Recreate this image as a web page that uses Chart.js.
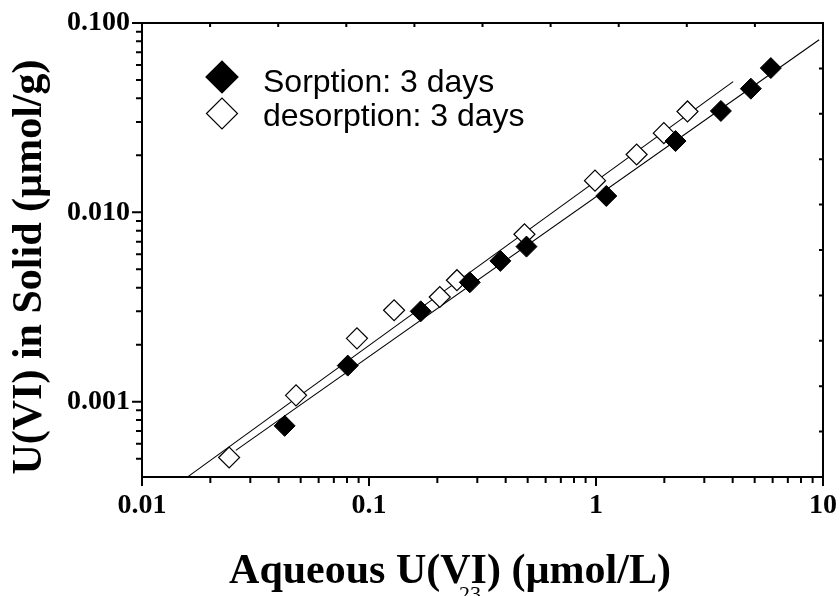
<!DOCTYPE html>
<html>
<head>
<meta charset="utf-8">
<script src="https://cdn.jsdelivr.net/npm/chart.js@4.4.1/dist/chart.umd.min.js"></script>
<style>
	html, body { margin: 0; padding: 0; background: #fff; }
	#wrap { width: 840px; height: 596px; }
</style>
</head>
<body>
<div id="wrap"><canvas id="chart"></canvas></div>
<script>
/* ==========================================================================
 Data
 ========================================================================== */

const seriesNames = ['Sorption: 3 days', 'desorption: 3 days'];

const sorptionX = [0.0425, 0.0806, 0.169, 0.278, 0.379, 0.494, 1.11, 2.24, 3.55, 4.81, 5.89];
const sorptionY = [0.000745, 0.00155, 0.0030, 0.00427, 0.00554, 0.00659, 0.0122, 0.0238, 0.0343, 0.045, 0.0578];

const desorptionX = [0.0242, 0.0477, 0.0885, 0.129, 0.205, 0.244, 0.484, 0.99, 1.51, 1.99, 2.53];
const desorptionY = [0.000507, 0.00108, 0.00216, 0.00304, 0.00357, 0.00438, 0.00766, 0.0147, 0.0202, 0.0262, 0.0341];

// fitted lines, end points
const sorptionFitX = [0.0259, 9.62];
const sorptionFitY = [0.000553, 0.0816];
const desorptionFitX = [0.0160, 4.02];
const desorptionFitY = [0.000403, 0.0490];

const xMajorTicks = [0.01, 0.1, 1, 10];
const xTickLabels = ['0.01', '0.1', '1', '10'];
const yMajorTicks = [0.001, 0.01, 0.1];
const yTickLabels = ['0.001', '0.010', '0.100'];

const xTitle = 'Aqueous U(VI) (\u00b5mol/L)';
const yTitle = 'U(VI) in Solid (\u00b5mol/g)';
const pageNumber = '23';

/* ==========================================================================
 Helpers
 ========================================================================== */

const toPoints = (xs, ys) => xs.map((x, i) => ({x: x, y: ys[i]}));

// 2..9 multiples of each decade, kept inside the axis range
const minorTicks = (min, max) => {
	const out = [];
	for (let e = Math.floor(Math.log10(min)); e < Math.ceil(Math.log10(max)); e++) {
		for (let k = 2; k <= 9; k++) {
			const v = k * Math.pow(10, e);
			if (v > min && v < max) out.push(v);
		}
	}
	return out;
};

const serif = "'Liberation Serif', 'Times New Roman', serif";
const sans = "'Liberation Sans', Arial, sans-serif";

/* ==========================================================================
 Frame, ticks, legend and titles
 ========================================================================== */

const decorPlugin = {
	id: 'decor',
	afterDraw(chart) {
		const {ctx, chartArea: a, scales: {x, y}} = chart;
		ctx.save();
		ctx.strokeStyle = '#000';
		ctx.lineWidth = 2;
		ctx.strokeRect(a.left, a.top, a.right - a.left, a.bottom - a.top);

		ctx.beginPath();
		// left axis, outward
		yMajorTicks.forEach(v => {
			const py = y.getPixelForValue(v);
			ctx.moveTo(a.left - 10, py); ctx.lineTo(a.left, py);
		});
		minorTicks(y.min, y.max).forEach(v => {
			const py = y.getPixelForValue(v);
			ctx.moveTo(a.left - 6, py); ctx.lineTo(a.left, py);
		});
		// bottom axis, outward
		xMajorTicks.forEach(v => {
			const px = x.getPixelForValue(v);
			ctx.moveTo(px, a.bottom); ctx.lineTo(px, a.bottom + 9);
		});
		minorTicks(x.min, x.max).forEach(v => {
			const px = x.getPixelForValue(v);
			ctx.moveTo(px, a.bottom); ctx.lineTo(px, a.bottom + 6);
		});
		// top and right edges: ten even steps, inward
		for (let k = 1; k < 10; k++) {
			const px = a.left + (a.right - a.left) * k / 10;
			ctx.moveTo(px, a.top); ctx.lineTo(px, a.top + 4);
			const py = a.top + (a.bottom - a.top) * k / 10;
			ctx.moveTo(a.right, py); ctx.lineTo(a.right - 4, py);
		}
		ctx.stroke();

		// legend
		const rows = [{cx: 222, cy: 77, r: 16, ty: 92}, {cx: 222, cy: 113.5, r: 15.5, ty: 126}];
		rows.forEach((row, i) => {
			const ds = chart.data.datasets[i];
			ctx.beginPath();
			ctx.moveTo(row.cx - row.r, row.cy);
			ctx.lineTo(row.cx, row.cy - row.r);
			ctx.lineTo(row.cx + row.r, row.cy);
			ctx.lineTo(row.cx, row.cy + row.r);
			ctx.closePath();
			ctx.fillStyle = ds.backgroundColor;
			ctx.fill();
			ctx.lineWidth = 1.2;
			ctx.strokeStyle = ds.borderColor;
			ctx.stroke();

			ctx.fillStyle = '#000';
			ctx.font = '32px ' + sans;
			ctx.textAlign = 'left';
			ctx.textBaseline = 'alphabetic';
			ctx.fillText(ds.label, 263, row.ty);
		});

		// axis titles
		ctx.fillStyle = '#000';
		ctx.font = 'bold 42px ' + serif;
		ctx.textAlign = 'center';
		ctx.textBaseline = 'alphabetic';
		ctx.fillText(xTitle, 450, 583);

		ctx.save();
		ctx.translate(41, 267);
		ctx.rotate(-Math.PI / 2);
		ctx.fillText(yTitle, 0, 0);
		ctx.restore();

		ctx.font = '22px ' + serif;
		ctx.textAlign = 'left';
		ctx.fillText(pageNumber, 459, 601);
		ctx.restore();
	}
};

/* ==========================================================================
 Config
 ========================================================================== */

const tickFont = {family: serif, size: 28, weight: 'bold', lineHeight: 1.2};

const config = {
	type: 'scatter',
	data: {
		datasets: [
			{
				label: seriesNames[0],
				data: toPoints(sorptionX, sorptionY),
				pointStyle: 'rectRot',
				pointRadius: 10.5,
				backgroundColor: '#000',
				borderColor: '#000',
				borderWidth: 1,
			},
			{
				label: seriesNames[1],
				data: toPoints(desorptionX, desorptionY),
				pointStyle: 'rectRot',
				pointRadius: 10.5,
				backgroundColor: '#fff',
				borderColor: '#000',
				borderWidth: 1.2,
			},
			{
				label: 'sorption fit',
				data: toPoints(sorptionFitX, sorptionFitY),
				showLine: true,
				pointRadius: 0,
				borderColor: '#000',
				borderWidth: 1.1,
			},
			{
				label: 'desorption fit',
				data: toPoints(desorptionFitX, desorptionFitY),
				showLine: true,
				pointRadius: 0,
				borderColor: '#000',
				borderWidth: 1.1,
			},
		],
	},
	options: {
		responsive: true,
		maintainAspectRatio: false,
		animation: false,
		devicePixelRatio: 1,
		layout: {
			padding: {top: 23, right: 17, left: 0, bottom: 0},
		},
		scales: {
			x: {
				type: 'logarithmic',
				min: 0.01,
				max: 10,
				afterBuildTicks: scale => { scale.ticks = xMajorTicks.map(v => ({value: v})); },
				afterFit: scale => {
					scale.height = 119;
					scale.paddingLeft = 0;
					scale.paddingRight = 0;
				},
				grid: {display: false, drawTicks: false},
				border: {display: false},
				ticks: {
					autoSkip: false,
					maxRotation: 0,
					padding: 12,
					color: '#000',
					font: tickFont,
					callback: (v, i) => xTickLabels[i],
				},
			},
			y: {
				type: 'logarithmic',
				min: 0.0004,
				max: 0.1,
				afterBuildTicks: scale => { scale.ticks = yMajorTicks.map(v => ({value: v})); },
				afterFit: scale => {
					scale.width = 142;
					scale.paddingTop = 0;
					scale.paddingBottom = 0;
				},
				grid: {display: false, drawTicks: false},
				border: {display: false},
				ticks: {
					autoSkip: false,
					padding: 12,
					color: '#000',
					font: tickFont,
					callback: (v, i) => yTickLabels[i],
				},
			},
		},
		plugins: {
			legend: {display: false},
			tooltip: {enabled: false},
		},
	},
	plugins: [decorPlugin],
};

/* ==========================================================================
 Render
 ========================================================================== */

const myChart = new Chart(document.getElementById('chart'), config);
</script>
</body>
</html>
